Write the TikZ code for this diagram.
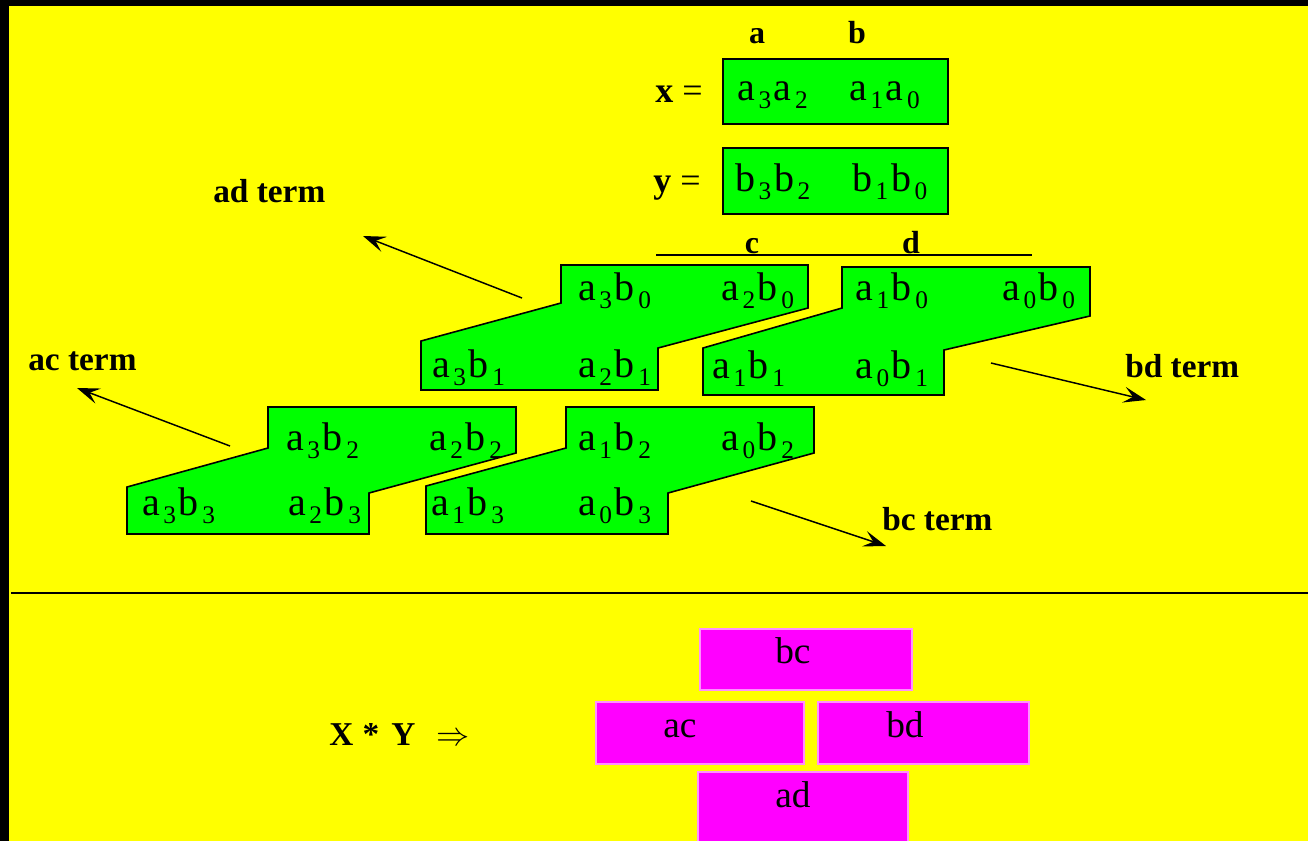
\documentclass[tikz,border=0pt]{standalone}
\usepackage{fontspec}
\setmainfont{Liberation Serif}
\usetikzlibrary{arrows.meta}
\definecolor{bgyellow}{HTML}{FFFF00}
\definecolor{boxgreen}{HTML}{00FF00}
\definecolor{boxmag}{HTML}{FF00FF}
\definecolor{magedge}{HTML}{FF90FF}
\newcommand{\sbx}[1]{\kern2.6pt\raisebox{-6.5pt}{\fontsize{19}{19}\selectfont #1}\kern2pt}
\begin{document}
\begin{tikzpicture}[x=0.75pt,y=-0.75pt,
  lbl/.style={font=\fontsize{24}{24}\selectfont\bfseries, inner sep=0, anchor=base},
  term/.style={font=\fontsize{25}{25}\selectfont\bfseries, inner sep=0, anchor=base west},
  eqn/.style={font=\fontsize{27}{27}\selectfont, inner sep=0, anchor=base west},
  gtxt/.style={font=\fontsize{30}{30}\selectfont, inner sep=0, anchor=base west},
  mtxt/.style={font=\fontsize{28}{28}\selectfont, inner sep=0, anchor=base west},
  grn/.style={fill=boxgreen, draw=black, line width=1.2pt, line join=miter},
  mag/.style={fill=boxmag, draw=magedge, line width=0.8pt},
  arr/.style={line width=1.1pt, -{Stealth[length=17pt,width=12pt,inset=7pt]}},
  rule/.style={line width=1.1pt}]
\useasboundingbox (0,0) rectangle (1308,840);
\fill[bgyellow] (-10,-10) rectangle (1320,860);
\fill[black] (-10,-10) rectangle (9,860);
\fill[black] (-10,-10) rectangle (1320,6);

% top labels
\node[lbl] (la) at (757,43) {a};
\node[lbl] (lb) at (857,43) {b};
\node[eqn] (xeq) at (655,102) {\textbf{x} =};
\node[eqn] (yeq) at (653,192) {\textbf{y} =};

% x and y registers
\draw[grn] (723,59) rectangle (948,124);
\draw[grn] (723,148) rectangle (948,214);
\node[gtxt] (x1) at (737,100) {a\sbx{3}a\sbx{2}};
\node[gtxt] (x2) at (849,100) {a\sbx{1}a\sbx{0}};
\node[gtxt] (y1) at (735,191) {b\sbx{3}b\sbx{2}};
\node[gtxt] (y2) at (852,191) {b\sbx{1}b\sbx{0}};

% rule with c and d
\draw[rule] (656,255) -- (1032,255);
\node[lbl] (lc) at (752,253) {c};
\node[lbl] (ld) at (911,253) {d};

% partial product groups
\draw[grn] (561,265) -- (808,265) -- (808,308) -- (658,348) -- (658,390) -- (421,390) -- (421,341) -- (561,303) -- cycle;
\draw[grn] (842,267) -- (1090,267) -- (1090,316) -- (944,350) -- (944,395) -- (703,395) -- (703,348) -- (842,308) -- cycle;
\draw[grn] (268,407) -- (516,407) -- (516,453) -- (369,493) -- (369,534) -- (127,534) -- (127,487) -- (268,448) -- cycle;
\draw[grn] (566,407) -- (814,407) -- (814,453) -- (668,493) -- (668,534) -- (426,534) -- (426,486) -- (566,448) -- cycle;

\node[gtxt] (p30) at (578,300) {a\sbx{3}b\sbx{0}};
\node[gtxt] (p20) at (721,300) {a\sbx{2}b\sbx{0}};
\node[gtxt] (p31) at (432,377) {a\sbx{3}b\sbx{1}};
\node[gtxt] (p21) at (578,377) {a\sbx{2}b\sbx{1}};

\node[gtxt] (p10) at (855,300) {a\sbx{1}b\sbx{0}};
\node[gtxt] (p00) at (1002,300) {a\sbx{0}b\sbx{0}};
\node[gtxt] (p11) at (712,378) {a\sbx{1}b\sbx{1}};
\node[gtxt] (p01) at (855,378) {a\sbx{0}b\sbx{1}};

\node[gtxt] (p32) at (286,450) {a\sbx{3}b\sbx{2}};
\node[gtxt] (p22) at (429,450) {a\sbx{2}b\sbx{2}};
\node[gtxt] (p33) at (142,515) {a\sbx{3}b\sbx{3}};
\node[gtxt] (p23) at (288,515) {a\sbx{2}b\sbx{3}};

\node[gtxt] (p12) at (578,450) {a\sbx{1}b\sbx{2}};
\node[gtxt] (p02) at (721,450) {a\sbx{0}b\sbx{2}};
\node[gtxt] (p13) at (431,515) {a\sbx{1}b\sbx{3}};
\node[gtxt] (p03) at (578,515) {a\sbx{0}b\sbx{3}};

% term labels and arrows
\node[term] (tad) at (213,202) {ad term};
\node[term] (tac) at (28,370) {ac term};
\node[term] (tbd) at (1125,377) {bd term};
\node[term] (tbc) at (882,530) {bc term};

\coordinate (ad0) at (522,298); \coordinate (ad1) at (363,236);
\coordinate (ac0) at (230,446); \coordinate (ac1) at (77,388);
\coordinate (bd0) at (991,363); \coordinate (bd1) at (1146,400);
\coordinate (bc0) at (751,501); \coordinate (bc1) at (886,546);
\draw[arr] (ad0) -- (ad1);
\draw[arr] (ac0) -- (ac1);
\draw[arr] (bd0) -- (bd1);
\draw[arr] (bc0) -- (bc1);

% separator
\draw[rule] (11,593) -- (1308,593);

% result
\node[term, font=\fontsize{25}{25}\selectfont] (xy) at (329,745) {\textbf{X}\hspace{7pt}\textbf{*}\hspace{9pt}\textbf{Y}\hspace{16pt}{\fontsize{27}{27}\selectfont$\Rightarrow$}};
\draw[mag] (700,629) rectangle (912,690);
\draw[mag] (596,702) rectangle (804,764);
\draw[mag] (818,702) rectangle (1029,764);
\draw[mag] (698,772) rectangle (908,850);
\node[mtxt] (mbc) at (775,663) {bc};
\node[mtxt] (mac) at (663,737) {ac};
\node[mtxt] (mbd) at (886,737) {bd};
\node[mtxt] (mad) at (775,807) {ad};
\end{tikzpicture}
\end{document}
